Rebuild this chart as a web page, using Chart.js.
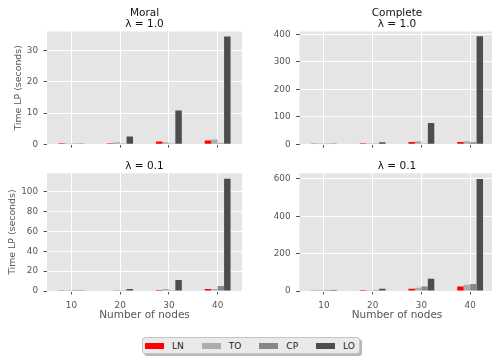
<!DOCTYPE html>
<html>
<head>
<meta charset="utf-8">
<script src="https://cdn.jsdelivr.net/npm/chart.js@4"></script>
<style>
  html, body { margin: 0; padding: 0; width: 492px; height: 357px; overflow: hidden; background: #ffffff; }
  canvas { position: absolute; }
  #legend {
    position: absolute; left: 142px; top: 337px; width: 218px; height: 17px;
    box-sizing: border-box; background: #eaeaea; border: 1px solid #c4c4c4; border-radius: 3px;
    box-shadow: 2px 2px 0 rgba(0,0,0,0.28);
    display: flex; align-items: center; padding-left: 2px;
    font-family: 'DejaVu Sans', sans-serif; font-size: 9px; color: #222222;
  }
  #legend .item { display: flex; align-items: center; margin-right: 18px; }
  #legend .sw { width: 19px; height: 6px; margin-right: 8px; }
</style>
</head>
<body>
<canvas id="moralHigh" width="247" height="155" style="left:0px;top:0px"></canvas>
<canvas id="completeHigh" width="250" height="155" style="left:250px;top:0px"></canvas>
<canvas id="moralLow" width="247" height="175" style="left:0px;top:155px"></canvas>
<canvas id="completeLow" width="250" height="175" style="left:250px;top:155px"></canvas>
<div id="legend"></div>

<script>
// Number of nodes on the x axis and the four solvers compared
const nodeLabels = ['10', '20', '30', '40'];
const seriesNames = ['LN', 'TO', 'CP', 'LO'];
const seriesColors = ['#ff0000', '#adadad', '#878787', '#4d4d4d'];

// LP solve time in seconds, one row per solver (LN, TO, CP, LO)
const moralLambda10 = [
  [0.3, 0.3, 0.9, 1.2],
  [0.2, 0.6, 0.6, 1.5],
  [0.05, 0.05, 0.1, 0.3],
  [0.1, 2.5, 10.8, 34.6]
];
const completeLambda10 = [
  [0.5, 3.5, 8, 8],
  [0.3, 1, 10.5, 10.5],
  [0.2, 0.5, 3, 7],
  [0.5, 7, 77, 393]
];
const moralLambda01 = [
  [0.3, 0.4, 1.0, 2],
  [0.2, 1, 2, 2],
  [0.1, 0.2, 0.8, 5],
  [0.3, 2, 11, 113]
];
const completeLambda01 = [
  [1, 6, 12, 24],
  [0.5, 1, 18, 34],
  [0.3, 5, 24, 38],
  [0.5, 12, 66, 600]
];

// Panel headings, y-axis ranges and y tick values
const panelTitles = [['Moral', 'λ = 1.0'], ['Complete', 'λ = 1.0'], ['λ = 0.1'], ['λ = 0.1']];
const yMaxima = [36.2, 410, 118.5, 630];
const yTicksMoralHigh = [0, 10, 20, 30];
const yTicksCompleteHigh = [0, 100, 200, 300, 400];
const yTicksMoralLow = [0, 20, 40, 60, 80, 100];
const yTicksCompleteLow = [0, 200, 400, 600];
const yAxisTitle = 'Time LP (seconds)';
const xAxisTitle = 'Number of nodes';

const FONT = 'DejaVu Sans';
const TICK_GRAY = '#555555';

// Grey panel background behind the grid
const panelBackground = {
  id: 'panelBackground',
  beforeDraw(chart) {
    const { ctx, chartArea: a } = chart;
    ctx.save();
    ctx.fillStyle = '#e5e5e5';
    ctx.fillRect(a.left, a.top, a.right - a.left, a.bottom - a.top);
    ctx.restore();
  }
};

function makePanel(canvasId, rows, idx, yTicks, cfg) {
  const datasets = seriesNames.map((name, i) => ({
    label: name,
    data: rows[i],
    backgroundColor: seriesColors[i],
    borderWidth: 0,
    categoryPercentage: 0.53,
    barPercentage: 1.0
  }));
  const titleLines = panelTitles[idx];
  return new Chart(document.getElementById(canvasId), {
    type: 'bar',
    data: { labels: nodeLabels, datasets },
    plugins: [panelBackground],
    options: {
      responsive: false,
      animation: false,
      events: [],
      layout: { padding: { left: 0, right: cfg.padRight, top: 0, bottom: 0 } },
      plugins: { legend: { display: false }, tooltip: { enabled: false } },
      scales: {
        x: {
          position: 'bottom',
          offset: true,
          border: { display: false },
          grid: { offset: false, color: '#ffffff', lineWidth: 1, tickColor: TICK_GRAY, tickLength: 3.5, drawTicks: true },
          ticks: { display: cfg.xLabels, color: TICK_GRAY, font: { family: FONT, size: 8.8 }, padding: 6, maxRotation: 0 },
          title: { display: cfg.xLabels, text: xAxisTitle, color: TICK_GRAY, font: { family: FONT, size: 10.5 }, padding: { top: 0, bottom: 8.7 } },
          afterFit(s) { s.height = cfg.xHeight; }
        },
        xTop: {
          type: 'category',
          position: 'top',
          border: { display: false },
          grid: { display: false, drawTicks: false },
          ticks: { display: false },
          title: { display: true, text: titleLines, color: '#111111', font: { family: FONT, size: 10.5, lineHeight: 1.02 }, padding: { top: cfg.titlePad, bottom: 0 } },
          afterFit(s) { s.height = cfg.topHeight; }
        },
        y: {
          min: 0,
          max: yMaxima[idx],
          border: { display: false },
          grid: { color: '#ffffff', lineWidth: 1, tickColor: TICK_GRAY, tickLength: 3.5 },
          ticks: { color: TICK_GRAY, font: { family: FONT, size: 8.8 }, padding: 5.5 },
          afterBuildTicks(s) { s.ticks = yTicks.map(v => ({ value: v })); },
          title: { display: cfg.yTitle, text: yAxisTitle, color: TICK_GRAY, font: { family: FONT, size: 9.4 }, padding: { top: cfg.yTitlePad, bottom: 0 } },
          afterFit(s) { s.width = cfg.yWidth; }
        }
      }
    }
  });
}

makePanel('moralHigh', moralLambda10, 0, yTicksMoralHigh,
  { padRight: 5, xHeight: 6, topHeight: 31.5, titlePad: 8, yWidth: 47, yTitle: true, yTitlePad: 12.8, xLabels: false });
makePanel('completeHigh', completeLambda10, 1, yTicksCompleteHigh,
  { padRight: 5.5, xHeight: 6, topHeight: 31.5, titlePad: 8, yWidth: 49.5, yTitle: false, yTitlePad: 0, xLabels: false });
makePanel('moralLow', moralLambda01, 2, yTicksMoralLow,
  { padRight: 5, xHeight: 39, topHeight: 18.3, titlePad: 5.6, yWidth: 47, yTitle: true, yTitlePad: 6.8, xLabels: true });
makePanel('completeLow', completeLambda01, 3, yTicksCompleteLow,
  { padRight: 5.5, xHeight: 39, topHeight: 18.3, titlePad: 5.6, yWidth: 49.5, yTitle: false, yTitlePad: 0, xLabels: true });

// Shared legend below the panels
const legendEl = document.getElementById('legend');
seriesNames.forEach((name, i) => {
  const item = document.createElement('div');
  item.className = 'item';
  const sw = document.createElement('span');
  sw.className = 'sw';
  sw.style.background = seriesColors[i];
  const txt = document.createElement('span');
  txt.textContent = name;
  item.appendChild(sw);
  item.appendChild(txt);
  legendEl.appendChild(item);
});
</script>
</body>
</html>
